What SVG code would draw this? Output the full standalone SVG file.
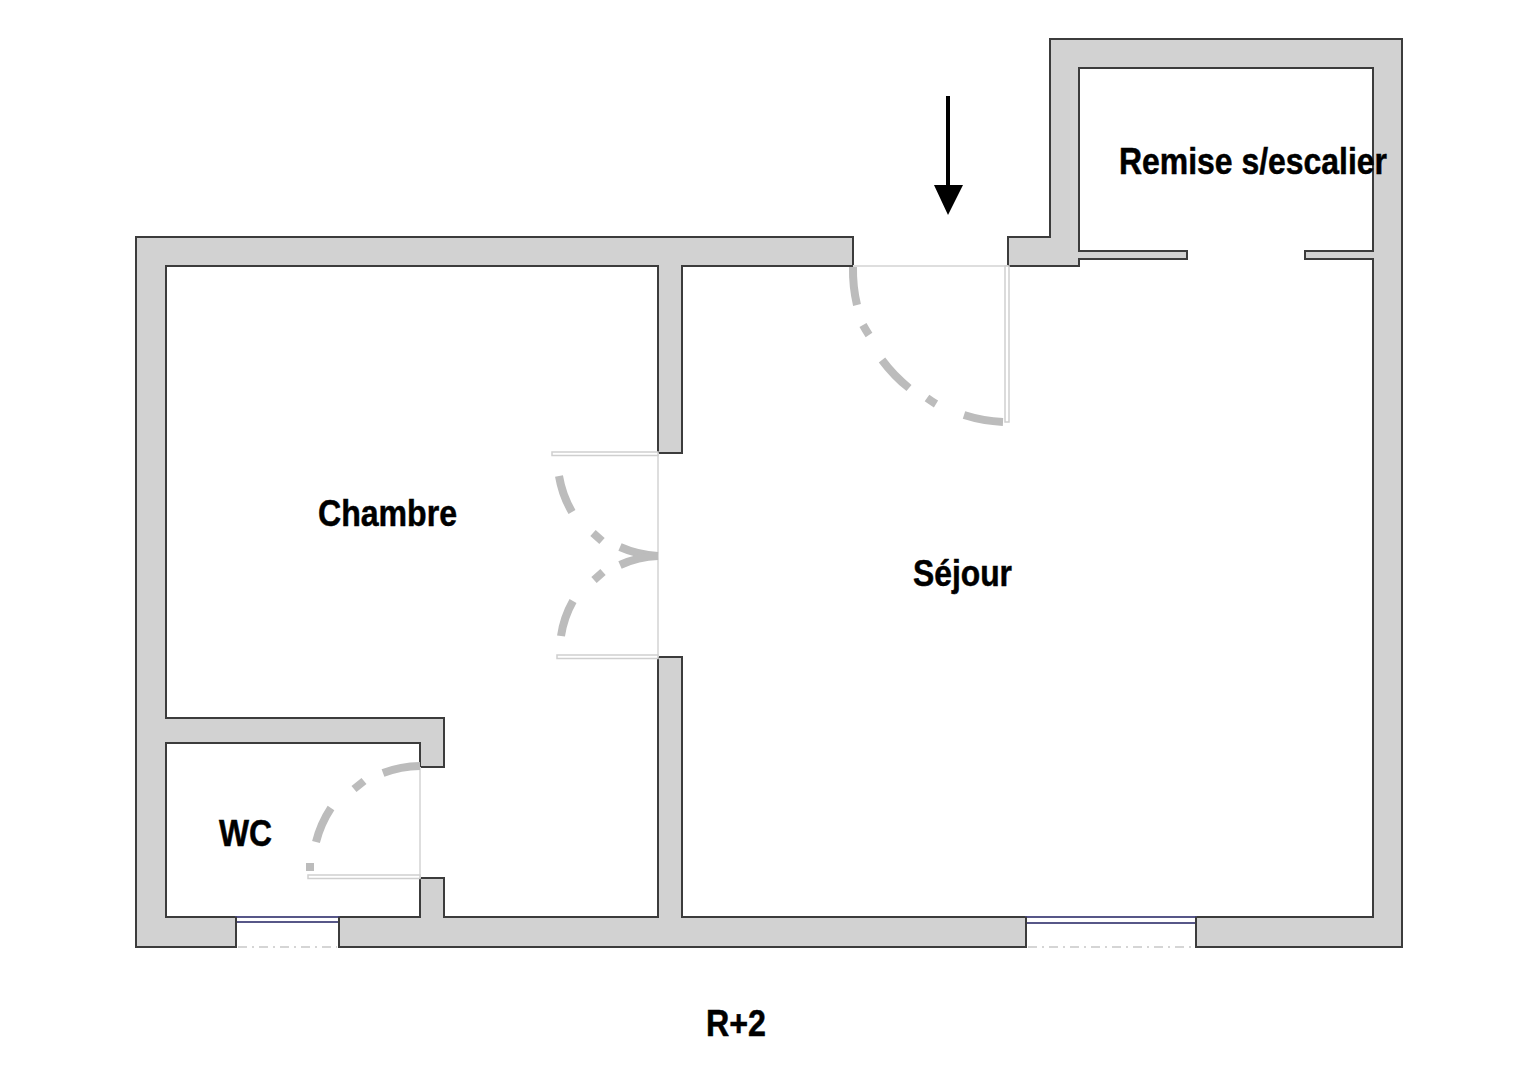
<svg xmlns="http://www.w3.org/2000/svg" width="1516" height="1080" viewBox="0 0 1516 1080">
<style>
.wall{fill:#d2d2d2;stroke:#3c3c3c;stroke-width:2;stroke-linejoin:miter}
.swing{fill:none;stroke:#bcbcbc;stroke-width:8}
.thin{fill:none;stroke:#dedede;stroke-width:2}
.leaf{fill:#fff;stroke:#cfcfcf;stroke-width:1.5}
.glass{fill:#fff;stroke:#45457c;stroke-width:1.8}
.sill{fill:none;stroke:#c8c8c8;stroke-width:1.5;stroke-dasharray:9 5 2 5}
.jamb{fill:none;stroke:#3c3c3c;stroke-width:2}
text{font-family:"Liberation Sans",Arial,sans-serif;font-weight:bold;fill:#000;stroke:#000;stroke-width:.5;font-size:36px}
</style>
<rect width="1516" height="1080" fill="#fff"/>
<g id="walls">
<path class="wall" d="M136 237H853V266H682V453H658V266H166V718H444V767H420V743H166V917H236V947H136Z"/>
<path class="wall" d="M339 947V917H420V878H444V917H658V657H682V917H1026V947Z"/>
<path class="wall" d="M1196 947V917H1373V259H1305V251H1373V68H1079V251H1187V259H1079V266H1008V237H1050V39H1402V947Z"/>
</g>
<g id="windows">
<rect class="glass" x="236" y="917" width="103" height="5"/>
<rect class="glass" x="1026" y="917" width="170" height="6"/>
<path class="sill" d="M238 947H337M1028 947H1194"/>
<path class="jamb" d="M236 917V947M339 917V947M1026 917V947M1196 917V947"/>
</g>
<g id="doors">
<path class="thin" d="M853 266H1008M658 453V657M420 767V878"/>
<rect class="leaf" x="1005" y="266" width="4" height="156"/>
<rect class="leaf" x="552" y="452" width="106" height="3.5"/>
<rect class="leaf" x="557" y="655" width="101" height="3.5"/>
<rect class="leaf" x="308" y="875" width="112" height="3.5"/>
<path class="swing" d="M853 267A152 152 0 0 0 857 305M863 325A152 152 0 0 0 869 335M882 360A152 152 0 0 0 909 388M927 398A152 152 0 0 0 936 404M964 415A152 152 0 0 0 1003 422"/>
<path class="swing" d="M559 476A106 106 0 0 0 572 512M593 533L602 541M620 547A106 106 0 0 0 658 556"/>
<path class="swing" d="M561 636A101 101 0 0 1 573 601M594 580L603 572M620 565A101 101 0 0 1 658 556"/>
<path class="swing" d="M383 773A111 111 0 0 1 420 766M354 789L364 781M331 808A111 111 0 0 0 316 842M306 867H314"/>
</g>
<g id="entry-arrow">
<path d="M948 96V186" fill="none" stroke="#000" stroke-width="4"/>
<path d="M934 185H963L948 215Z" fill="#000"/>
</g>
<g id="labels">
<text x="318" y="526" textLength="139" lengthAdjust="spacingAndGlyphs">Chambre</text>
<text x="913" y="586" textLength="99" lengthAdjust="spacingAndGlyphs">Séjour</text>
<text x="1119" y="174" textLength="268" lengthAdjust="spacingAndGlyphs">Remise s/escalier</text>
<text x="219" y="846" textLength="53" lengthAdjust="spacingAndGlyphs">WC</text>
<text x="706" y="1036" textLength="60" lengthAdjust="spacingAndGlyphs">R+2</text>
</g>
</svg>
